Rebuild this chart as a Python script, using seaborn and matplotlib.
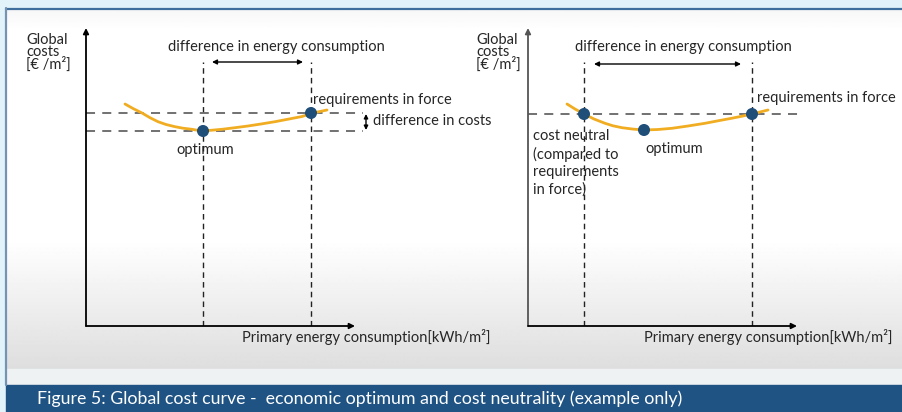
import numpy as np
import matplotlib.pyplot as plt
import seaborn as sns
from matplotlib.patches import Rectangle

# values (arbitrary units: energy on x, global cost on y)
left_curve_energy = [39, 47, 56, 64, 72, 80, 89, 97, 106, 111, 117, 126, 136,
                     149, 162, 175, 189, 202, 216, 225, 233, 241]
left_curve_cost = [222, 217.5, 213, 208.3, 204.3, 201.5, 199.3, 197.8, 196.7, 195.8, 195,
                   195.8, 196.7, 198.3, 200, 202, 204.3, 206.8, 209.5, 212.5, 214.3, 216]
left_points_energy = [117, 225]
left_points_cost = [195, 213]

right_curve_energy = [39, 47, 56, 66, 77, 85, 94, 105, 116, 130, 144, 160, 177,
                      190, 204, 214, 224, 232, 240]
right_curve_cost = [222, 217, 212, 207, 202.7, 200.2, 198.3, 196.9, 196, 196.5, 197.7,
                    200, 202.7, 205.2, 207.8, 209.8, 212, 214, 216]
right_points_energy = [56, 116, 224]
right_points_cost = [212, 196, 212]

y_label = "Global\ncosts\n[€ /m²]"
x_label = "Primary energy consumption[kWh/m²]"
caption = "Figure 5: Global cost curve -  economic optimum and cost neutrality (example only)"

sns.set_theme(style="white")
plt.rcParams['font.family'] = ['Lato', 'DejaVu Sans']

W, H = 903, 412
CURVE = '#f1ad22'
DOT = '#1f4e79'
FS = 10.5

fig = plt.figure(figsize=(W / 100, H / 100), dpi=100)
fig.patch.set_facecolor('#e2f3f9')


def px_axes(x0, y0, x1, y1, **kw):
    return fig.add_axes([x0 / W, 1 - y1 / H, (x1 - x0) / W, (y1 - y0) / H], **kw)


# page furniture: panel with soft gradient, strip and caption bar
bg = px_axes(0, 0, W, H)
bg.set_xlim(0, W)
bg.set_ylim(H, 0)
bg.axis('off')
rows = np.arange(8, 370)
shade = np.interp(rows, [8, 30, 240, 369], [0.965, 1.0, 1.0, 0.87])
grad = np.repeat(shade[:, None], 2, axis=1)
bg.imshow(grad, cmap='gray', vmin=0, vmax=1, extent=[6, W, 369, 8], aspect='auto')
bg.add_patch(Rectangle((6, 369), W - 6, 16, color='#eef2f2'))
bg.add_patch(Rectangle((6, 385), W - 6, 27, color='#1f5384'))
bg.plot([6, W], [8.5, 8.5], color='#3f6f9c', lw=1.6)
bg.plot([6.5, 6.5], [8, 385], color='#7593b3', lw=1.6)
bg.text(37, 399, caption, color='white', fontsize=12.8, va='center', ha='left')


def draw_axes(ax, arrow_color, label_x):
    ax.set_xlim(0, 300)
    ax.set_ylim(0, 300)
    ax.axis('off')
    ax.patch.set_alpha(0)
    ap = dict(arrowstyle='-|>', color=arrow_color, lw=1.3, mutation_scale=8,
              shrinkA=0, shrinkB=0)
    ax.annotate('', xy=(0, 298), xytext=(0, 0), arrowprops=ap)
    ap = dict(ap, color='black')
    ax.annotate('', xy=(269, 0), xytext=(0, 0), arrowprops=ap)
    ax.text(label_x, 293, y_label, fontsize=FS, va='top', ha='left', linespacing=0.8)


def energy_arrow(ax, x0, x1, y):
    ax.annotate('', xy=(x0, y), xytext=(x1, y),
                arrowprops=dict(arrowstyle='<|-|>', color='black', lw=1,
                                mutation_scale=7, shrinkA=0, shrinkB=0))


# ---- left chart: optimum vs requirements in force
ax1 = px_axes(86, 26, 386, 326)
draw_axes(ax1, 'black', -60)
for x in left_points_energy:
    ax1.plot([x, x], [0, 264], ls=(0, (4, 3)), color='#222222', lw=1)
for y in left_points_cost:
    ax1.plot([0, 277], [y, y], ls=(0, (5, 4)), color='#666666', lw=1.3)
sns.lineplot(x=left_curve_energy, y=left_curve_cost, ax=ax1, color=CURVE,
             lw=2, sort=False)
sns.scatterplot(x=left_points_energy, y=left_points_cost, ax=ax1, color=DOT,
                s=75, edgecolor='none', zorder=5)
ax1.text(190, 279, "difference in energy consumption", fontsize=FS,
         ha='center', va='center')
energy_arrow(ax1, 126, 217, 264)
ax1.text(227, 226, "requirements in force", fontsize=FS, ha='left', va='center')
ax1.text(119, 176, "optimum", fontsize=FS, ha='center', va='center')
ax1.annotate('', xy=(280, 196), xytext=(280, 212),
             arrowprops=dict(arrowstyle='<|-|>', color='black', lw=1,
                             mutation_scale=6, shrinkA=0, shrinkB=0))
ax1.text(287, 205, "difference in costs", fontsize=FS, ha='left', va='center')
ax1.text(405, -11, x_label, fontsize=FS, ha='right', va='center')

# ---- right chart: cost neutrality
ax2 = px_axes(528, 26, 828, 326)
draw_axes(ax2, '#555555', -52)
for x in [right_points_energy[0], right_points_energy[2]]:
    ax2.plot([x, x], [0, 264], ls=(0, (4, 3)), color='#222222', lw=1)
ax2.plot([0, 275], [right_points_cost[0]] * 2, ls=(0, (5, 4)), color='#666666', lw=1.3)
sns.lineplot(x=right_curve_energy, y=right_curve_cost, ax=ax2, color=CURVE,
             lw=2, sort=False)
sns.scatterplot(x=right_points_energy, y=right_points_cost, ax=ax2, color=DOT,
                s=75, edgecolor='none', zorder=5)
ax2.text(155, 279, "difference in energy consumption", fontsize=FS,
         ha='center', va='center')
energy_arrow(ax2, 66, 213, 262)
ax2.text(229, 228, "requirements in force", fontsize=FS, ha='left', va='center')
ax2.text(146, 177, "optimum", fontsize=FS, ha='center', va='center')
ax2.text(5, 197, "cost neutral\n(compared to\nrequirements\nin force)", fontsize=FS,
         ha='left', va='top', linespacing=1.3)
ax2.text(365, -11, x_label, fontsize=FS, ha='right', va='center')

fig.savefig('out.png', dpi=100, facecolor=fig.get_facecolor())
